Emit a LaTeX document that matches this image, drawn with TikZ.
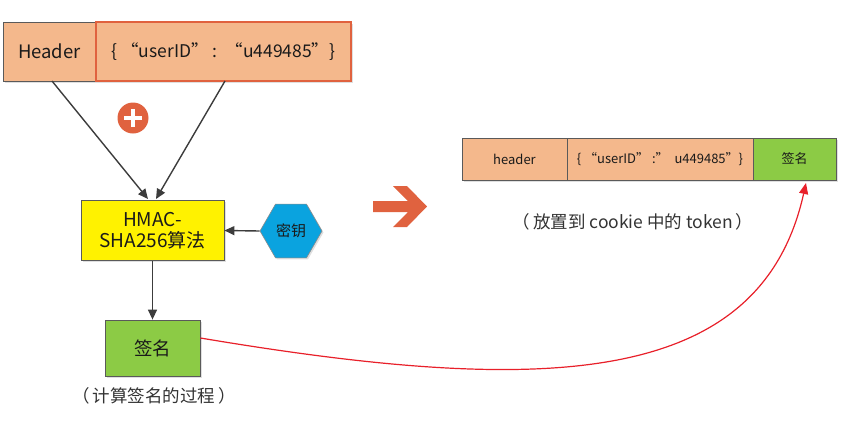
\documentclass[tikz,border=0pt]{standalone}
\usepackage{fontspec}
\setmainfont{Noto Sans CJK SC}
\usetikzlibrary{arrows.meta,shapes.geometric,shadows}
\definecolor{peach}{HTML}{F4B88C}
\definecolor{leaf}{HTML}{8CCB45}
\definecolor{hexblue}{HTML}{0AA3DF}
\definecolor{accent}{HTML}{E0623F}
\definecolor{frame}{HTML}{5A5A5A}
\definecolor{arr}{HTML}{3C3C3C}
\definecolor{curve}{HTML}{E8202A}
\definecolor{ink}{HTML}{1A1A1A}
\tikzset{
  box/.style={draw=frame, line width=0.8pt, inner sep=0pt, align=center, text=ink,
    drop shadow={shadow xshift=1.5pt, shadow yshift=-1.5pt, opacity=0.25}},
  flow/.style={draw=arr, line width=1.4pt, -{Triangle[length=10pt,width=9pt]}},
  captext/.style={font=\fontsize{17.5}{20}\selectfont, text=black!80}
}
\begin{document}
\begin{tikzpicture}[x=1pt,y=-1pt]
\useasboundingbox (0,0) rectangle (855,421);
% left top boxes
\node[box, fill=peach, minimum width=93pt, minimum height=59pt, font=\fontsize{18.5}{20}\selectfont] (hdr) at (49.5,51.5) {Header};
\node[box, fill=peach, draw=accent, line width=1.6pt, minimum width=255pt, minimum height=59pt, font=\fontsize{17.5}{20}\selectfont] (json) at (223.5,51.5) {\{ “userID” : \ “u449485"\}};
% plus
\node[circle, fill=accent, minimum size=31pt, inner sep=0pt] (plus) at (133,118) {};
\draw[white, line width=4.5pt] ([xshift=-9pt]plus.center) -- ([xshift=9pt]plus.center);
\draw[white, line width=4.5pt] ([yshift=-9pt]plus.center) -- ([yshift=9pt]plus.center);
% HMAC
\node[box, fill=yellow, minimum width=143pt, minimum height=60pt, font=\fontsize{19}{21}\selectfont] (hmac) at (152.5,230.5) {HMAC-\\SHA256算法};
% key hexagon
\node[regular polygon, regular polygon sides=6, fill=hexblue, draw=frame!70, line width=0.6pt, minimum size=62pt, inner sep=0pt, text=ink, font=\fontsize{15}{16}\selectfont,
  drop shadow={shadow xshift=1.5pt, shadow yshift=-1.5pt, opacity=0.25}] (key) at (291,231) {密钥};
% signature
\node[box, fill=leaf, minimum width=95pt, minimum height=56pt, font=\fontsize{18.5}{20}\selectfont] (sig) at (152.5,348) {签名};
\node[captext] (cap1) at (154,396) {（\,计算签名的过程\,）};
% arrows
\coordinate (hL) at (148,199);
\coordinate (hR) at (156,199);
\coordinate (s1) at (52,81);
\coordinate (s2) at (225,81);
\draw[flow] (s1) -- (hL);
\draw[flow] (s2) -- (hR);
\draw[flow] (key.west) -- (hmac.east);
\draw[flow] (hmac.south) -- (sig.north);
% big arrow
\fill[accent] (373,201) -- (408,201) -- (393,186) -- (407,186) -- (427,206.5) -- (407,227) -- (393,227) -- (408,212) -- (373,212) -- cycle;
% token
\node[box, fill=peach, minimum width=105pt, minimum height=42pt, font=\fontsize{13}{14}\selectfont] (th) at (514.5,159) {header};
\node[box, fill=peach, minimum width=186pt, minimum height=42pt, font=\fontsize{13}{14}\selectfont] (tj) at (660,159) {\{ “userID” :” \ u449485"\}};
\node[box, fill=leaf, minimum width=83pt, minimum height=42pt, font=\fontsize{13}{14}\selectfont] (ts) at (794.5,159) {签名};
\node[captext] (cap2) at (633,222) {（\,放置到 cookie 中的 token\,）};
% red curve
\coordinate (tip) at (806,183);
\draw[curve, line width=1.2pt, -{Triangle[length=11pt,width=9pt]}] ([yshift=10pt]sig.east) .. controls (540,395) and (760,390) .. (tip);
\end{tikzpicture}
\end{document}
